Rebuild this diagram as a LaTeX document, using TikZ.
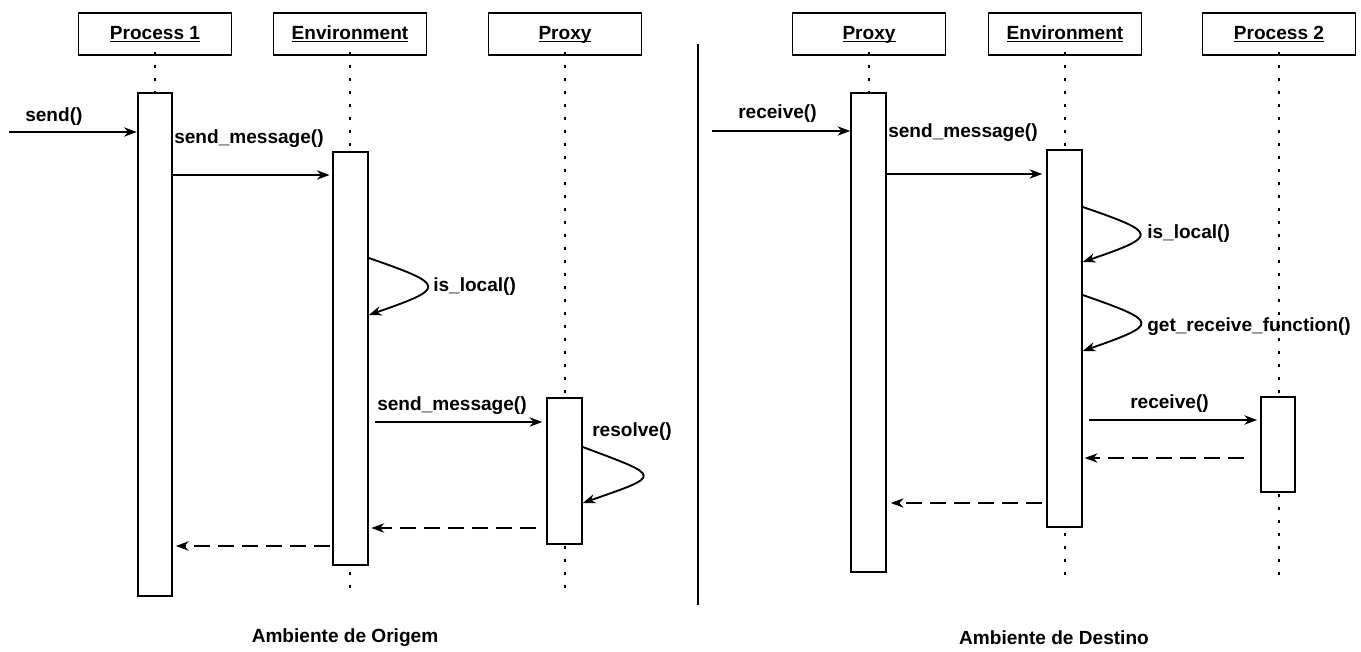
\documentclass[tikz,border=0pt]{standalone}
\usepackage{fontspec}
\setmainfont{Liberation Sans}
\usetikzlibrary{arrows.meta}

\tikzset{
  lifehead/.style={draw, fill=white, line width=1.4pt, minimum width=114.75pt, minimum height=31.5pt,
    inner sep=0pt, text height=10pt, text depth=2.3pt, font=\bfseries\fontsize{14.3}{16}\selectfont},
  actbar/.style={draw, fill=white, line width=1.4pt, inner sep=0pt, minimum width=26pt, minimum height=#1*0.75pt},
  lifeline/.style={line width=2.1pt, dash pattern=on 2.1pt off 7.65pt},
  call/.style={line width=1.4pt, -{Stealth[length=9.5pt,width=7pt,inset=3pt]}},
  reply/.style={line width=1.4pt, dash pattern=on 12pt off 6pt, -{Stealth[length=9.5pt,width=7pt,inset=3pt]}},
  msg/.style={anchor=west, inner sep=0pt, font=\bfseries\fontsize{14.3}{16}\selectfont},
}
\newcommand{\headlabel}[1]{\underline{\smash{#1}}}

\begin{document}
\begin{tikzpicture}[x=0.75pt,y=0.75pt,yscale=-1,xscale=1]
\useasboundingbox (0,0) rectangle (1361,652);

%Lifeline heads, left side
\node[lifehead] (p1head) at (155,34) {\headlabel{Process 1}};
\node[lifehead] (e1head) at (350,34) {\headlabel{Environment}};
\node[lifehead] (x1head) at (565,34) {\headlabel{Proxy}};
%Lifeline heads, right side
\node[lifehead] (x2head) at (869,34) {\headlabel{Proxy}};
\node[lifehead] (e2head) at (1065,34) {\headlabel{Environment}};
\node[lifehead] (p2head) at (1279,34) {\headlabel{Process 2}};

%Lifeline ends
\coordinate (p1end) at (155,596);
\coordinate (e1end) at (350,596);
\coordinate (x1end) at (565,590);
\coordinate (x2end) at (869,572);
\coordinate (e2end) at (1065,578);
\coordinate (p2end) at (1279,577);

%Dotted lifelines
\draw[lifeline] ([yshift=-3pt]p1head.south) -- (p1end);
\draw[lifeline] ([yshift=-3pt]e1head.south) -- (e1end);
\draw[lifeline] ([yshift=-3pt]x1head.south) -- (x1end);
\draw[lifeline] ([yshift=-3pt]x2head.south) -- (x2end);
\draw[lifeline] ([yshift=-3pt]e2head.south) -- (e2end);
\draw[lifeline] ([yshift=-3pt]p2head.south) -- (p2end);

%Activation bars
\node[actbar=503] (p1bar) at (155,344.5) {};
\node[actbar=413] (e1bar) at (350.5,358.5) {};
\node[actbar=146] (x1bar) at (564.5,471) {};
\node[actbar=479] (x2bar) at (868.5,332.5) {};
\node[actbar=377] (e2bar) at (1064.5,338.5) {};
\node[actbar=95] (p2bar) at (1278,444.5) {};

%Separator
\draw[line width=1.4pt] (698,44) -- (698,605);

%Incoming calls
\coordinate (in1) at (9,132);
\coordinate (in2) at (712,131);
\draw[call] (in1) -- (p1bar.west |- in1);
\draw[call] (in2) -- (x2bar.west |- in2);

%Left side messages
\draw[call, shorten >=2pt] (p1bar.east |- 0,175) -- (e1bar.west |- 0,175);
\draw[call] (e1bar.east |- 0,258) .. controls +(78,27) and +(78,-27) .. (e1bar.east |- 0,315);
\draw[call, shorten <=4.5pt, shorten >=3pt] (e1bar.east |- 0,422) -- (x1bar.west |- 0,422);
\draw[call] (x1bar.east |- 0,447) .. controls +(80,30) and +(80,-28) .. (x1bar.east |- 0,503);
\draw[reply, shorten <=7.5pt, shorten >=2pt] (x1bar.west |- 0,528) -- (e1bar.east |- 0,528);
\draw[reply, shorten <=2pt, shorten >=2pt] (e1bar.west |- 0,546) -- (p1bar.east |- 0,546);

%Right side messages
\draw[call, shorten >=3pt] (x2bar.east |- 0,174) -- (e2bar.west |- 0,174);
\draw[call] (e2bar.east |- 0,207) .. controls +(76,26) and +(76,-26) .. (e2bar.east |- 0,262);
\draw[call] (e2bar.east |- 0,295) .. controls +(77,27) and +(77,-27) .. (e2bar.east |- 0,351);
\draw[call, shorten <=5pt, shorten >=2pt] (e2bar.east |- 0,420) -- (p2bar.west |- 0,420);
\draw[reply, shorten <=12pt, shorten >=1.5pt] (p2bar.west |- 0,458) -- (e2bar.east |- 0,458);
\draw[reply, shorten <=3pt, shorten >=3pt] (e2bar.west |- 0,503) -- (x2bar.east |- 0,503);

% Text Node
\node[msg] (lsend) at (25,117) {send()};
\node[msg] (lsendmsga) at (174,139) {send\_message()};
\node[msg] (llocala) at (433,287) {is\_local()};
\node[msg] (lsendmsgb) at (377,406) {send\_message()};
\node[msg] (lresolve) at (592,432) {resolve()};
% Text Node
\node[msg] (lrecva) at (738,114) {receive()};
\node[msg] (lsendmsgc) at (888,133) {send\_message()};
\node[msg] (llocalb) at (1147,234) {is\_local()};
\node[msg] (lgetrecv) at (1147,327) {get\_receive\_function()};
\node[msg] (lrecvb) at (1130,404) {receive()};
% Text Node
\node[msg, anchor=center] (origem) at (345,638) {Ambiente de Origem};
\node[msg, anchor=center] (destino) at (1054,638) {Ambiente de Destino};

\end{tikzpicture}
\end{document}
